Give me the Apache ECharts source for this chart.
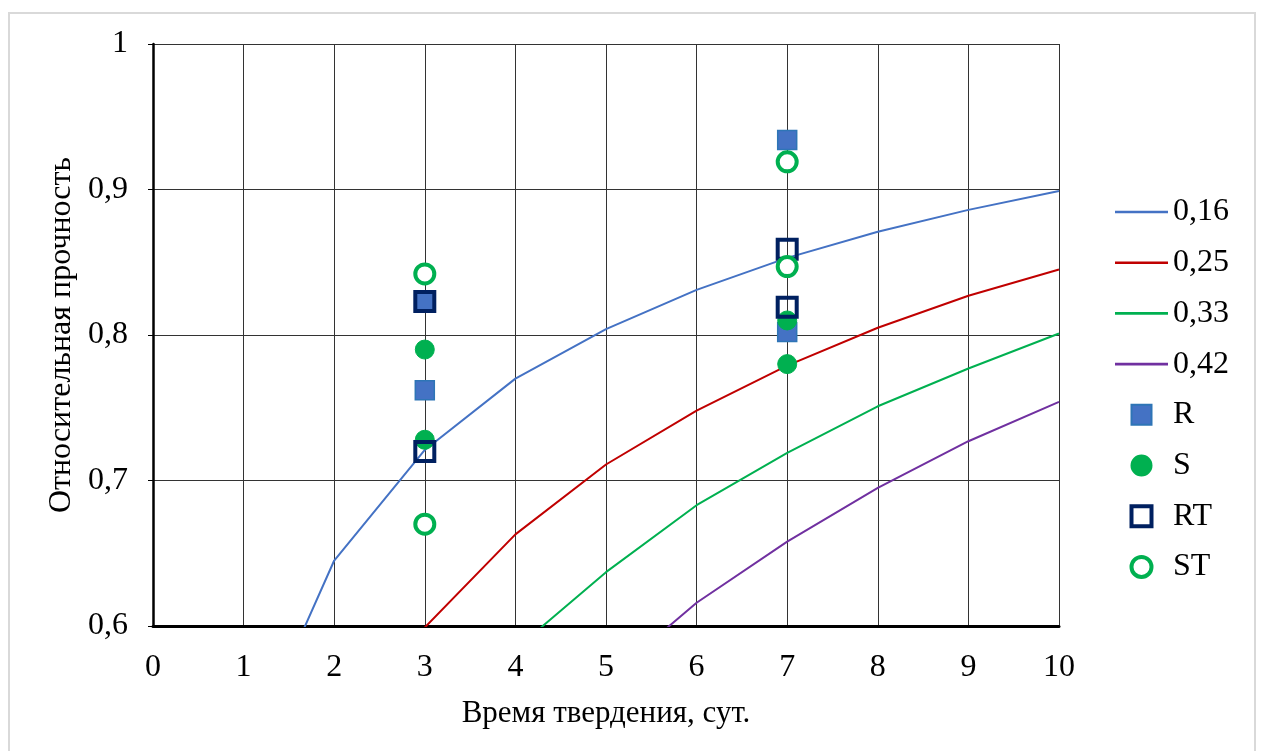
<!DOCTYPE html>
<html><head><meta charset="utf-8">
<script src="https://cdn.jsdelivr.net/npm/echarts@6/dist/echarts.min.js"></script>
<style>
html,body{margin:0;padding:0;background:#fff;}
#frame{position:absolute;left:8px;top:12px;width:1248px;height:745px;border:2px solid #d9d9d9;box-sizing:border-box;}
#c{position:absolute;left:0;top:0;width:1261px;height:751px;}
</style></head>
<body>
<div id="frame"></div>
<div id="c"></div>
<script>
const xTicks = [0,1,2,3,4,5,6,7,8,9,10];
const curveNames = ['0,16','0,25','0,33','0,42'];
const curve016 = [[1,0.505],[2,0.645],[3,0.721],[4,0.770],[5,0.804],[6,0.831],[7,0.853],[8,0.871],[9,0.886],[10,0.899]];
const curve025 = [[3,0.599],[4,0.663],[5,0.711],[6,0.748],[7,0.779],[8,0.805],[9,0.827],[10,0.845]];
const curve033 = [[4,0.584],[5,0.637],[6,0.683],[7,0.719],[8,0.751],[9,0.777],[10,0.801]];
const curve042 = [[5,0.563],[6,0.616],[7,0.658],[8,0.695],[9,0.727],[10,0.754]];
const pointsR  = [[3,0.823],[3,0.762],[7,0.934],[7,0.802]];
const pointsS  = [[3,0.790],[3,0.728],[7,0.810],[7,0.780]];
const pointsRT = [[3,0.823],[3,0.720],[7,0.859],[7,0.819]];
const pointsST = [[3,0.842],[3,0.670],[7,0.919],[7,0.847]];

const font = 'Liberation Serif';
const chart = echarts.init(document.getElementById('c'), null, {renderer:'canvas'});
const lineColors = ['#4472C4','#C00000','#00B050','#7030A0'];
const curves = [curve016, curve025, curve033, curve042];
const series = curves.map((d,i)=>({
  name: curveNames[i], type:'line', data:d, symbol:'none', clip:true,
  lineStyle:{color:lineColors[i], width:2}, itemStyle:{color:lineColors[i]}, z:2
}));
series.push({name:'R', type:'scatter', data:pointsR, symbol:'rect', symbolSize:19,
  itemStyle:{color:'#4472C4', borderColor:'#2E75B6', borderWidth:1.5, opacity:1}, z:3});
series.push({name:'S', type:'scatter', data:pointsS, symbol:'circle', symbolSize:19,
  itemStyle:{color:'#00B050', borderColor:'#00B050', borderWidth:1, opacity:1}, z:3});
series.push({name:'RT', type:'scatter', data:pointsRT, symbol:'rect', symbolSize:19,
  itemStyle:{color:'rgba(0,0,0,0)', borderColor:'#002060', borderWidth:4, opacity:1}, z:4});
series.push({name:'ST', type:'scatter', data:pointsST, symbol:'circle', symbolSize:19,
  itemStyle:{color:'#ffffff', borderColor:'#00B050', borderWidth:4, opacity:1}, z:5});

const lineIcon = 'path://M0,0H53V2.6H0Z';
const sqIcon = 'path://M0,0H20V20H0Z';
const sqIconRT = 'path://M0,0H17V17H0Z';

chart.setOption({
  animation:false,
  backgroundColor:'transparent',
  grid:{left:153, top:44, right:202, bottom:125, containLabel:false},
  legend:{
    orient:'vertical', left:1115, top:196, padding:0, itemWidth:53, itemHeight:20, itemGap:18.7,
    textStyle:{fontFamily:font, fontSize:32, color:'#000'},
    data:[
      {name:'0,16', icon:lineIcon},
      {name:'0,25', icon:lineIcon},
      {name:'0,33', icon:lineIcon},
      {name:'0,42', icon:lineIcon},
      {name:'R', icon:sqIcon},
      {name:'S', icon:'circle'},
      {name:'RT', icon:sqIconRT, itemStyle:{borderWidth:4, borderColor:'#002060', color:'rgba(0,0,0,0)'}},
      {name:'ST', icon:'circle', itemStyle:{borderWidth:4, borderColor:'#00B050', color:'#ffffff'}}
    ]
  },
  xAxis:{
    type:'value', min:0, max:10, interval:1,
    name:'Время твердения, сут.', nameLocation:'middle', nameGap:72,
    nameTextStyle:{fontFamily:font, fontSize:31, color:'#000'},
    axisLine:{show:true, onZero:false, lineStyle:{color:'#000', width:3}},
    axisTick:{show:false},
    axisLabel:{fontFamily:font, fontSize:32, color:'#000', margin:26},
    splitLine:{show:true, lineStyle:{color:'#333', width:1}}
  },
  yAxis:{
    type:'value', min:0.6, max:1, interval:0.1,
    name:'Относительная прочность', nameLocation:'middle', nameGap:75,
    nameTextStyle:{fontFamily:font, fontSize:32, color:'#000'},
    axisLine:{show:true, onZero:false, lineStyle:{color:'#000', width:2.5}},
    axisTick:{show:true, length:5, lineStyle:{color:'#000', width:1}},
    axisLabel:{fontFamily:font, fontSize:32, color:'#000', margin:25,
      formatter:v=>String(Math.round(v*10)/10).replace('.',',')},
    splitLine:{show:true, lineStyle:{color:'#333', width:1}}
  },
  series:series
});
</script>
</body></html>
